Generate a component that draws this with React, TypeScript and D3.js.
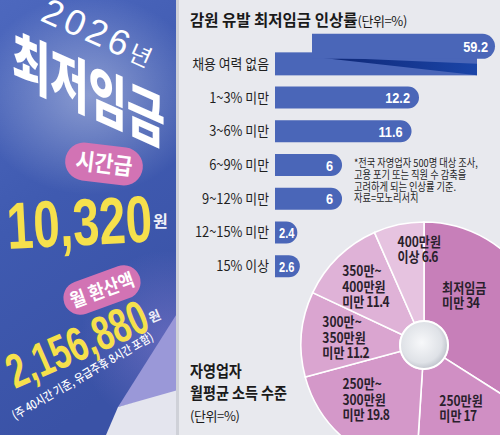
import * as d3 from 'd3';

// ---- data ----
const barCategories = ['채용 여력 없음', '1~3% 미만', '3~6% 미만', '6~9% 미만', '9~12% 미만', '12~15% 미만', '15% 이상'];
const barValues = [59.2, 12.2, 11.6, 6, 6, 2.4, 2.6];
const barTitle = '감원 유발 최저임금 인상률';
const barUnit = '(단위=%)';
const noteLines = ['*전국 자영업자 500명 대상 조사,', '고용 포기 또는 직원 수 감축을', '고려하게 되는 인상률 기준.', '자료=모노리서치'];

const incomeCategories = [
  ['최저임금', '미만'],
  ['250만원', '미만'],
  ['250만~', '300만원', '미만'],
  ['300만~', '350만원', '미만'],
  ['350만~', '400만원', '미만'],
  ['400만원', '이상'],
];
const incomeValues = [34, 17, 19.8, 11.2, 11.4, 6.6];
const incomeTitle = ['자영업자', '월평균 소득 수준'];
const incomeUnit = '(단위=%)';

const posterYear = '2026';
const posterYearUnit = '년';
const posterTitle = '최저임금';
const hourlyTag = '시간급';
const hourlyWage = '10,320';
const monthlyTag = '월 환산액';
const monthlyWage = '2,156,880';
const wageUnit = '원';
const monthlyNote = '(주 40시간 기준, 유급주휴 8시간 포함)';

// ---- style ----
const W = 500;
const H = 435;
const PANEL_X = 178;
const KR = "'Noto Sans CJK KR', 'Noto Sans', sans-serif";
const WIDE = "'Liberation Sans', 'Noto Sans CJK KR', sans-serif";
const BAR_BLUE = '#4a66b8';
const PINKS = ['#c77fb9', '#d08fc4', '#d498c9', '#daa5d0', '#dfb2d7', '#e6c3e0'];
const YELLOW = '#f6e04c';
const TAG_PINK = '#d273b4';

const rightRoundedBar = (x0: number, x1: number, y0: number, h: number) => {
  const r = Math.min(h / 2, x1 - x0);
  const p = d3.path();
  p.moveTo(x0, y0);
  p.lineTo(x1 - r, y0);
  p.arc(x1 - r, y0 + r, r, -Math.PI / 2, Math.PI / 2);
  p.lineTo(x0, y0 + h);
  p.closePath();
  return p.toString();
};

function Poster() {
  return (
    <g clipPath="url(#posterClip)">
      <rect x={0} y={0} width={PANEL_X} height={H} fill="url(#posterBg)" />
      <ellipse cx={90} cy={95} rx={115} ry={100} fill="url(#posterGlow)" />
      <ellipse cx={170} cy={340} rx={90} ry={90} fill="url(#posterTint)" />
      <polygon points="178,312 178,392 118,407" fill="#9a98d8" />
      <polygon points="118,407 178,390 178,435 106,435" fill="#e4e5ee" />

      <text transform="translate(39,20) rotate(24)" fontFamily={WIDE} fontWeight={300} fontSize={36}
        letterSpacing={4} fill="#fff">
        {posterYear}
        <tspan fontFamily={KR} fontSize={24} fontWeight={400}>{posterYearUnit}</tspan>
      </text>
      <text transform="translate(12,78) skewY(24) scale(0.8,1.15)" fontFamily={KR} fontWeight={900}
        fontSize={52} fill="#fff">{posterTitle}</text>

      <g transform="translate(104,164) rotate(7)">
        <rect x={-39} y={-19} width={78} height={38} rx={19} fill={TAG_PINK} />
        <text transform="scale(0.9,1)" y={8} textAnchor="middle" fontFamily={KR} fontWeight={700}
          fontSize={23} fill="#fff">{hourlyTag}</text>
      </g>
      <text transform="translate(8,249) rotate(-3) scale(0.72,1)" fontFamily={WIDE} fontWeight={700}
        fontSize={66} fill={YELLOW}>{hourlyWage}</text>
      <text x={153} y={227} fontFamily={KR} fontWeight={700} fontSize={16} fill="#eef0f8">{wageUnit}</text>

      <g transform="translate(102,290) rotate(-20)">
        <rect x={-40} y={-17} width={80} height={34} rx={17} fill={TAG_PINK} />
        <text transform="scale(0.9,1)" y={7} textAnchor="middle" fontFamily={KR} fontWeight={700}
          fontSize={19} fill="#fff">{monthlyTag}</text>
      </g>
      <text transform="translate(15,389) rotate(-23.5) scale(0.7,1)" fontFamily={WIDE} fontWeight={700}
        fontSize={48} fill={YELLOW}>{monthlyWage}</text>
      <text transform="translate(151,323) rotate(-23.5)" fontFamily={KR} fontWeight={700} fontSize={13}
        fill="#eef0f8">{wageUnit}</text>
      <text transform="translate(15,420) rotate(-30) scale(0.85,1)" fontFamily={KR} fontWeight={500}
        fontSize={12} fill="#fff">{monthlyNote}</text>
    </g>
  );
}

export default function App() {
  const x = d3.scaleLinear().domain([0.6, 12.2]).range([275, 419]);
  const y = d3.scaleBand<string>().domain(barCategories).range([47, 283]);
  const barH = 22;
  const broken = { start: 312, lowerEnd: 477, topEnd: 495, lift: 19 };

  const cx = 424;
  const cy = 345;
  const pie = d3.pie<number>().sort(null).value((d) => d);
  const slices = pie(incomeValues);
  const arc = d3.arc<d3.PieArcDatum<number>>().innerRadius(24).outerRadius(123);
  const labelArc = d3.arc<d3.PieArcDatum<number>>().innerRadius(80).outerRadius(80);
  const labelNudge = [[-52, -11], [-21, -8], [-31, -7], [-22, 0], [-26, -1], [-10, -17]];
  const lineH = 15.5;

  const valueText = (v: number, px: number, py: number, anchor: string, sx = 0.85) => (
    <text transform={`translate(${px},${py}) scale(${sx},1)`} textAnchor={anchor} fontFamily={WIDE}
      fontWeight={700} fontSize={15} fill="#fff">{v}</text>
  );

  return (
    <svg width={W} height={H} viewBox={`0 0 ${W} ${H}`}
      style={{ position: 'absolute', left: 0, top: 0, display: 'block' }}>
      <defs>
        <clipPath id="posterClip"><rect x={0} y={0} width={PANEL_X} height={H} /></clipPath>
        <linearGradient id="posterBg" x1="0" y1="0" x2="0.3" y2="1">
          <stop offset="0" stopColor="#4d68be" />
          <stop offset="0.5" stopColor="#3f5ab0" />
          <stop offset="1" stopColor="#3a52a6" />
        </linearGradient>
        <radialGradient id="posterGlow">
          <stop offset="0" stopColor="#ffffff" stopOpacity={0.38} />
          <stop offset="1" stopColor="#ffffff" stopOpacity={0} />
        </radialGradient>
        <radialGradient id="posterTint">
          <stop offset="0" stopColor="#8a7ed0" stopOpacity={0.5} />
          <stop offset="1" stopColor="#8a7ed0" stopOpacity={0} />
        </radialGradient>
        <linearGradient id="foldShade" x1="0" y1="0" x2="1" y2="0">
          <stop offset="0" stopColor="#0e2470" />
          <stop offset="1" stopColor="#1a45a8" />
        </linearGradient>
        <radialGradient id="holeFill" cx="0.45" cy="0.45" r="0.6">
          <stop offset="0" stopColor="#f7f8fa" />
          <stop offset="0.7" stopColor="#dfe2e7" />
          <stop offset="1" stopColor="#b6bbc4" />
        </radialGradient>
      </defs>

      <rect x={0} y={0} width={W} height={H} fill="#e8e9ee" />
      <Poster />
      <rect x={PANEL_X - 2} y={0} width={3} height={H} fill="#cfd1d8" />

      {/* bar chart */}
      <text x={190} y={26} fontFamily={KR} fontWeight={700} fontSize={15.5} fill="#1a1a1a">
        {barTitle}
        <tspan fontWeight={400} fontSize={13} letterSpacing={-0.4}>{barUnit}</tspan>
      </text>
      {barCategories.map((c, i) => {
        const v = barValues[i];
        const yc = (y(c) ?? 0) + y.bandwidth() / 2;
        const x0 = x.range()[0];
        const label = (
          <text transform={`translate(269,${yc + 5}) scale(0.92,1)`} textAnchor="end" fontFamily={KR}
            fontSize={14} fill="#1f1f1f">{c}</text>
        );
        if (v > x.domain()[1] * 2) {
          const top = yc - barH / 2 - broken.lift;
          return (
            <g key={c}>
              {label}
              <rect x={x0} y={yc - 11.5} width={broken.lowerEnd - x0} height={23} fill={BAR_BLUE} />
              <polygon
                points={`${broken.start},${yc - 7} ${broken.lowerEnd},${yc} ${broken.lowerEnd},${yc + 11.5}`}
                fill="url(#foldShade)" />
              <path d={rightRoundedBar(broken.start, broken.topEnd, top, 25)} fill={BAR_BLUE} />
              {valueText(v, broken.topEnd - 7, top + 18, 'end')}
            </g>
          );
        }
        const x1 = x(v);
        const short = x1 - x0 < 40;
        return (
          <g key={c}>
            {label}
            <path d={rightRoundedBar(x0, x1, yc - barH / 2, barH)} fill={BAR_BLUE} />
            {short
              ? valueText(v, x0 + 4, yc + 5.5, 'start', 0.74)
              : valueText(v, x1 - 9, yc + 5.5, 'end')}
          </g>
        );
      })}
      <text transform="translate(354,167) scale(0.84,1)" fontFamily={KR} fontSize={11} fill="#1f1f1f">
        {noteLines.map((l, i) => (
          <tspan key={l} x={0} dy={i === 0 ? 0 : 11.8}>{l}</tspan>
        ))}
      </text>

      {/* donut */}
      <g transform={`translate(${cx},${cy})`}>
        {slices.map((s, i) => (
          <path key={i} d={arc(s) ?? ''} fill={PINKS[i]} stroke="#fff" strokeWidth={1.6} />
        ))}
        <circle r={24} fill="url(#holeFill)" stroke="#fff" strokeWidth={2} />
        {slices.map((s, i) => {
          const [lx, ly] = labelArc.centroid(s);
          const lines = incomeCategories[i];
          const left = lx + labelNudge[i][0];
          const top = ly + labelNudge[i][1] - ((lines.length - 1) * lineH) / 2;
          return (
            <text key={'l' + i} transform={`translate(${left},${top + 5}) scale(0.86,1)`}
              fontFamily={KR} fontWeight={700} fontSize={14} fill="#2a1f2c">
              {lines.map((t, j) => (
                <tspan key={j} x={0} dy={j === 0 ? 0 : lineH}>
                  {t}
                  {j === lines.length - 1 && (
                    <tspan letterSpacing={-0.8}>{` ${incomeValues[i]}`}</tspan>
                  )}
                </tspan>
              ))}
            </text>
          );
        })}
      </g>

      <g fontFamily={KR} fill="#1a1a1a">
        <text transform="translate(190,377) scale(0.88,1)" fontWeight={700} fontSize={16}>
          {incomeTitle.map((t, i) => (
            <tspan key={t} x={0} dy={i === 0 ? 0 : 22}>{t}</tspan>
          ))}
        </text>
        <text x={190} y={421} fontSize={13} letterSpacing={-0.4}>{incomeUnit}</text>
      </g>
    </svg>
  );
}
